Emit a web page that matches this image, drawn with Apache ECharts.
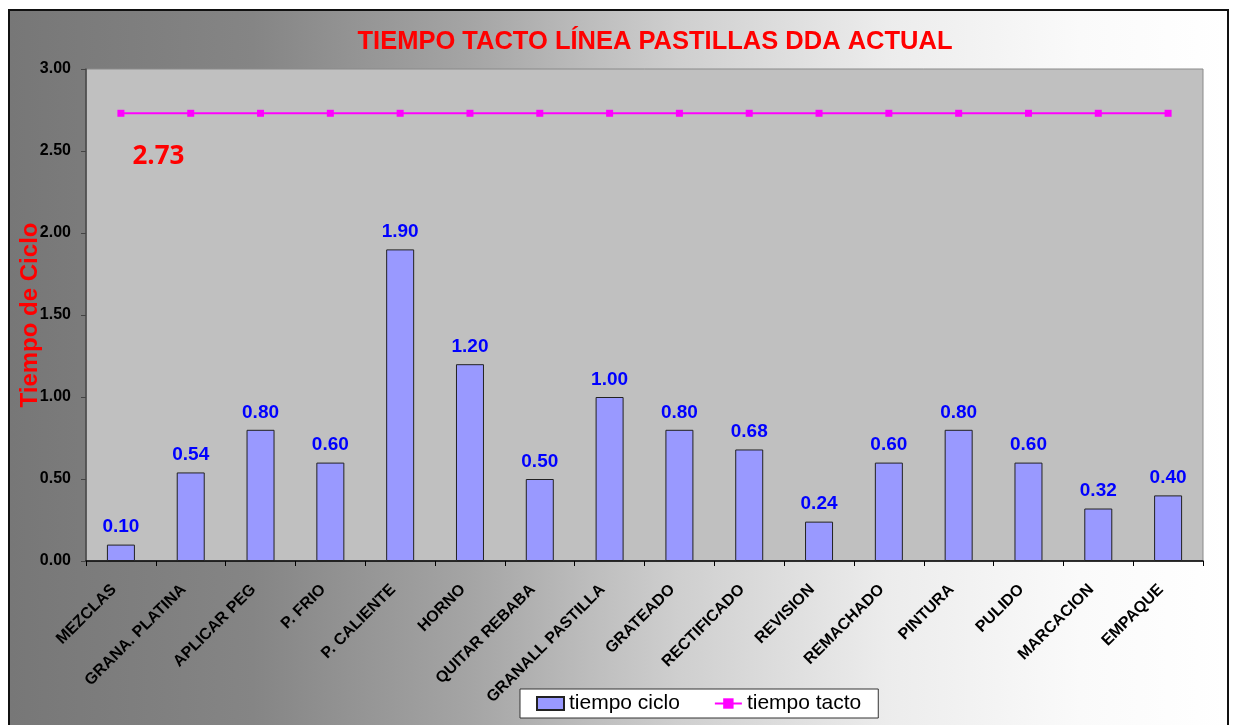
<!DOCTYPE html>
<html lang="es">
<head>
<meta charset="UTF-8">
<title>Tiempo tacto</title>
<script src="https://cdn.jsdelivr.net/npm/echarts@6/dist/echarts.min.js"></script>
<style>
    body { margin: 0; background: #fff; }
    .frame {
        position: absolute; left: 8px; top: 9px; width: 1217px; height: 730px;
        border: 2px solid #111;
        background: linear-gradient(to right, #777 0%, #858585 20%, #a5a5a5 38%, #cfcfcf 55%, #ececec 72%, #fafafa 88%, #fff 100%);
    }
    #main { position: absolute; left: 0; top: 0; width: 1233px; height: 725px; }
</style>
</head>
<body>
<div class="frame"></div>
<div id="main"></div>
<script>
    var categorias = ['MEZCLAS', 'GRANA. PLATINA', 'APLICAR PEG', 'P. FRIO', 'P. CALIENTE', 'HORNO',
        'QUITAR REBABA', 'GRANALL PASTILLA', 'GRATEADO', 'RECTIFICADO', 'REVISION', 'REMACHADO',
        'PINTURA', 'PULIDO', 'MARCACION', 'EMPAQUE'];
    var tiempoCiclo = [0.10, 0.54, 0.80, 0.60, 1.90, 1.20, 0.50, 1.00, 0.80, 0.68, 0.24, 0.60, 0.80, 0.60, 0.32, 0.40];
    var tiempoTacto = [2.73, 2.73, 2.73, 2.73, 2.73, 2.73, 2.73, 2.73, 2.73, 2.73, 2.73, 2.73, 2.73, 2.73, 2.73, 2.73];

    var chart = echarts.init(document.getElementById('main'));

    // first point carries the "2.73" label
    var tactoData = tiempoTacto.map(function (v, i) {
        if (i === 0) {
            return {
                value: v,
                label: {
                    show: true, position: 'right', offset: [3, 43],
                    color: '#ff0000', fontSize: 26, fontWeight: 'bold', fontFamily: 'Open Sans',
                    formatter: function (p) { return p.value.toFixed(2); }
                }
            };
        }
        return v;
    });

    var option = {
        animation: false,
        backgroundColor: 'transparent',
        title: {
            text: 'TIEMPO TACTO LÍNEA PASTILLAS DDA ACTUAL',
            left: 650, top: 24, textAlign: 'center',
            textStyle: { color: '#ff0000', fontSize: 25.5, fontWeight: 'bold', fontFamily: 'Liberation Sans' }
        },
        legend: {
            left: 520, top: 689,
            backgroundColor: '#fff', borderColor: '#333', borderWidth: 1,
            padding: [4, 17, 4, 16],
            itemGap: 34, itemWidth: 27, itemHeight: 13,
            textStyle: { color: '#000', fontSize: 21, fontFamily: 'Liberation Sans' },
            data: [
                { name: 'tiempo ciclo', icon: 'rect' },
                { name: 'tiempo tacto' }
            ]
        },
        grid: {
            left: 86, top: 69, width: 1117, height: 492,
            containLabel: false, outerBoundsMode: 'none',
            show: true, backgroundColor: '#c0c0c0', borderColor: '#8a8a8a', borderWidth: 1
        },
        xAxis: {
            type: 'category',
            data: categorias,
            boundaryGap: true,
            axisLine: { lineStyle: { color: '#000', width: 1.5 } },
            axisTick: { show: true, length: 5, lineStyle: { color: '#000' } },
            axisLabel: {
                interval: 0, rotate: 45, margin: 19, padding: [0, 10, 0, 0],
                color: '#000', fontSize: 16, fontWeight: 'bold', fontFamily: 'Liberation Sans'
            }
        },
        yAxis: {
            type: 'value',
            min: 0, max: 3, interval: 0.5,
            name: 'Tiempo de Ciclo',
            nameLocation: 'middle', nameGap: 44, nameMoveOverlap: false,
            nameTextStyle: { color: '#ff0000', fontSize: 24, fontWeight: 'bold', fontFamily: 'Liberation Sans' },
            axisLine: { show: true, lineStyle: { color: '#444', width: 1.5 } },
            axisTick: { show: true, length: 5, lineStyle: { color: '#444' } },
            splitLine: { show: false },
            axisLabel: {
                margin: 15, color: '#000', fontSize: 16, fontWeight: 'bold', fontFamily: 'Liberation Sans',
                formatter: function (v) { return v.toFixed(2); }
            }
        },
        series: [
            {
                name: 'tiempo ciclo',
                type: 'bar',
                barWidth: 28,
                data: tiempoCiclo,
                itemStyle: { color: '#9999ff', borderColor: '#222', borderWidth: 1 },
                label: {
                    show: true, position: 'top', distance: 8,
                    color: '#0000ff', fontSize: 19, fontWeight: 'bold', fontFamily: 'Liberation Sans',
                    formatter: function (p) { return p.value.toFixed(2); }
                }
            },
            {
                name: 'tiempo tacto',
                type: 'line',
                data: tactoData,
                symbol: 'rect', symbolSize: 7,
                lineStyle: { color: '#ff00ff', width: 2 },
                itemStyle: { color: '#ff00ff' }
            }
        ]
    };
    chart.setOption(option);
</script>
</body>
</html>
